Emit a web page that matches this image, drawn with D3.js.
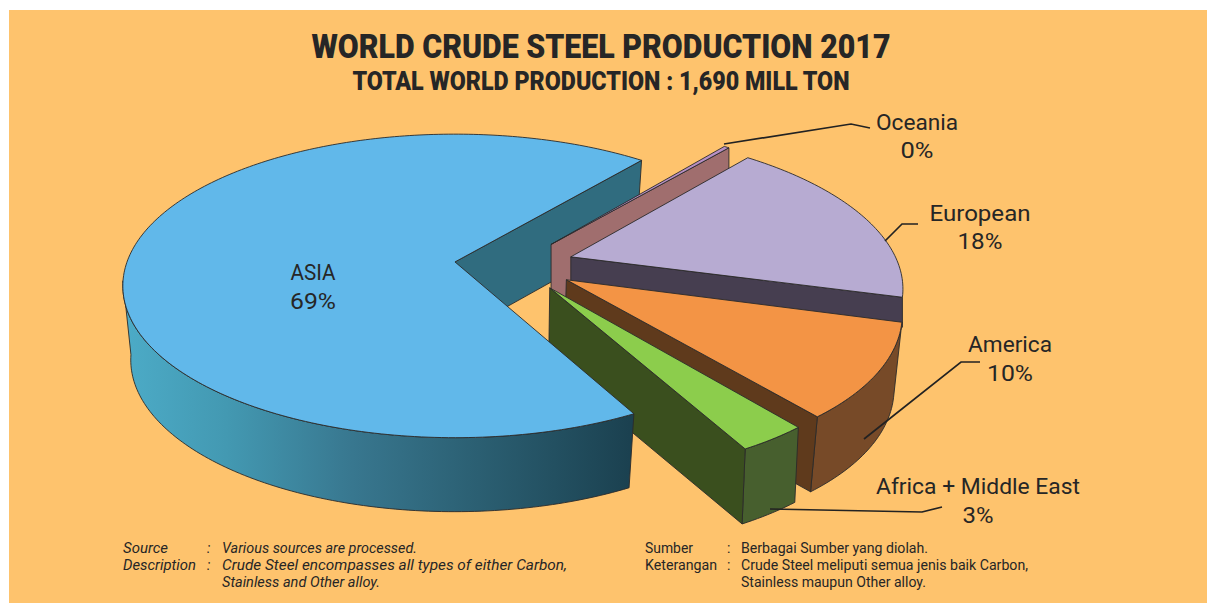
<!DOCTYPE html>
<html><head><meta charset="utf-8">
<script src="https://cdn.jsdelivr.net/npm/d3@7/dist/d3.min.js"></script>
<style>html,body{margin:0;padding:0;background:#fff}svg{display:block}text{fill:#262626}</style>
</head><body><svg id="c" width="1207" height="603"></svg>
<script>
// Data
const categories = ["ASIA","Oceania","European","America","Africa + Middle East"];
const values = [69, 0.3, 18, 10, 3];
const valueLabels = ["69%","0%","18%","10%","3%"];
const topColors = ["#61b8ea","#b78fc4","#b7abd2","#f39445","#8ccd4c"];
const cutColors = ["#306c7f","#a06e6e","#463e50","#5f3a1c","#3a4f1e"];
const rimColors = ["url(#asiaRim)",null,null,"#774a28","#475f2e"];
const title = "WORLD CRUDE STEEL PRODUCTION 2017";
const subtitle = "TOTAL WORLD PRODUCTION : 1,690 MILL TON";
const notes = [
 ["Source",":","Various sources are processed."],
 ["Description",":","Crude Steel encompasses all types of either Carbon,"],
 ["","","Stainless and Other alloy."]];
const notesId = [
 ["Sumber",":","Berbagai Sumber yang diolah."],
 ["Keterangan",":","Crude Steel meliputi semua jenis baik Carbon,"],
 ["","","Stainless maupun Other alloy."]];

// Layout
const labelPos = [[313,280,309,45,46],[917,130,158,82,33],[980,221,249,101,45],[1010,352,381,84,46],[978,494,523,204,31]];
const leaders = [
 [[724,144],[851,124],[870,128]],
 [[885,241],[902,224],[918,224]],
 [[864,439],[961,362],[980,362]],
 [[770,509],[922,512],[942,507]]];
const radiiX = [1,1,0.995,0.982,0.972];
const leans = [0.025,0,0,0.018,0.01];
const depths = [74,60,30,75,75];
const persp = 0.158, explode = 0.182, origin = [0.181,-0.018];
const leanX = 440;
const rad = d => d*Math.PI/180;

const svg = d3.select("#c");
svg.append("rect").attr("x",9).attr("y",10).attr("width",1198).attr("height",593).attr("fill","#fec36d");

const grad = svg.append("defs").append("linearGradient").attr("id","asiaRim")
  .attr("gradientUnits","userSpaceOnUse").attr("x1",125).attr("x2",630).attr("y1",0).attr("y2",0);
[[0,"#4cabc7"],[0.2,"#4399b2"],[0.45,"#38778f"],[0.7,"#2b5f72"],[1,"#1b4150"]].forEach(s=>grad.append("stop").attr("offset",s[0]).attr("stop-color",s[1]));

const xS = d3.scaleLinear().domain([-1,1]).range([127,783]);
const yS = d3.scaleLinear().domain([-1,1]).range([410,114]);
const project = (X,Y) => { const w = 1+persp*Y; return [xS(X/w), yS(Y/w)]; };

const arcs = d3.pie().sort(null).value(d=>d).startAngle(rad(152)).endAngle(rad(512))(values);
const line = d3.line();
const slices = arcs.map((a,i)=>{
  const mid=(a.startAngle+a.endAngle)/2;
  const c=[origin[0]+explode*Math.sin(mid), origin[1]+explode*Math.cos(mid)];
  const n=Math.max(3,Math.ceil((a.endAngle-a.startAngle)/rad(1)));
  const ts=d3.range(n+1).map(k=>a.startAngle+(a.endAngle-a.startAngle)*k/n);
  const pt=t=>project(c[0]+radiiX[i]*Math.sin(t),c[1]+Math.cos(t));
  return {i,apex:project(c[0],c[1]),rim:ts.map(pt),front:ts.filter(t=>Math.cos(t)<-0.12).map(pt)};
});
const lowerOf = i => ([x,y]) => [x+leans[i]*(leanX-x), y+depths[i]];
const style = (s,f)=>s.attr("fill",f).attr("stroke","#2a2a2a").attr("stroke-width",0.9).attr("stroke-linejoin","round");
const drawCut = s => { const e=s.rim[s.rim.length-1], lower=lowerOf(s.i);
  style(svg.append("path").attr("d",line([s.apex,e,lower(e),lower(s.apex)])+"Z"),cutColors[s.i]); };
const drawRim = s => { if(!rimColors[s.i]) return;
  style(svg.append("path").attr("d",line(s.front.concat(s.front.map(lowerOf(s.i)).reverse()))+"Z"),rimColors[s.i]); };
const drawTop = s => style(svg.append("path").attr("d",line([s.apex,...s.rim])+"Z"),topColors[s.i]);

// back-to-front
drawCut(slices[0]);
[1,2,3,4].forEach(i=>{drawRim(slices[i]);drawCut(slices[i]);drawTop(slices[i]);});
drawRim(slices[0]);drawTop(slices[0]);

// Leaders
leaders.forEach(p=>svg.append("path").attr("d",line(p)).attr("fill","none").attr("stroke","#222").attr("stroke-width",1.7));

// Titles
const put=(t,x,y,size,weight,len,fam,anchor)=>svg.append("text").attr("x",x).attr("y",y).attr("font-family",fam)
  .attr("font-size",size).attr("font-weight",weight).attr("text-anchor",anchor||"middle")
  .attr("textLength",len).attr("lengthAdjust","spacingAndGlyphs").text(t);
put(title,601,58,33,900,579,"Roboto");
put(subtitle,601,90,25,900,497,"Roboto");

// Labels
categories.forEach((c,i)=>{const p=labelPos[i];
  put(c,p[0],p[1],22,400,p[3],"Roboto");
  put(valueLabels[i],p[0],p[2],22,400,p[4],"Roboto");});

// Notes
const foot=(rows,x,italic,lens)=>rows.forEach((r,k)=>{const y=553+k*17;
  r.forEach((t,j)=>{ if(!t) return;
    const tx=svg.append("text").attr("x",x[j]).attr("y",y).attr("font-family","Roboto").attr("font-size",14)
      .attr("font-style",italic?"italic":"normal").text(t);
    if(lens[k][j]) tx.attr("textLength",lens[k][j]).attr("lengthAdjust","spacingAndGlyphs");
  });});
foot(notes,[123,207,222],true,[[45,0,195],[73,0,345],[0,0,158]]);
foot(notesId,[645,727,741],false,[[48,0,187],[72,0,287],[0,0,185]]);
</script></body></html>
